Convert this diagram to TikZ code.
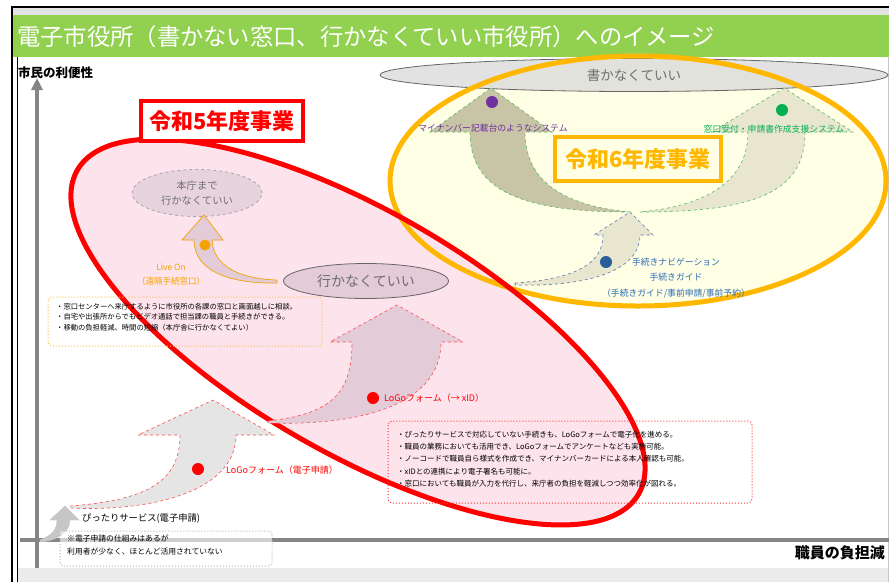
\documentclass[tikz,border=0pt]{standalone}
\usepackage{fontspec}
\newfontfamily\jp{Noto Sans CJK JP}
\usetikzlibrary{shapes.geometric,arrows.meta}
\definecolor{tgreen}{HTML}{92D050}
\definecolor{axisgray}{HTML}{858585}
\definecolor{yfill}{HTML}{FFFFE6}
\definecolor{yline}{HTML}{FFB700}
\definecolor{pinkfill}{HTML}{FDE3EC}
\definecolor{rline}{HTML}{FF0000}
\definecolor{pkgray}{HTML}{E3CBD7}
\definecolor{khaki}{HTML}{C8C4A6}
\definecolor{khakil}{HTML}{E9E6D0}
\definecolor{gline}{HTML}{55B866}
\definecolor{bline}{HTML}{4F78B0}
\definecolor{purp}{HTML}{7030A0}
\definecolor{grn}{HTML}{00B050}
\definecolor{blu}{HTML}{2E6DB4}
\definecolor{orng}{HTML}{F5A300}
\definecolor{txtgray}{HTML}{6E6E6E}
\tikzset{
  axisline/.style={axisgray, line width=4},
  yearbox/.style={draw, line width=3.5, fill=white, inner sep=0, minimum height=40,
     font=\jp\bfseries\fontsize{22}{24}\selectfont},
  bubble/.style={ellipse, inner sep=0, draw=gray!80!black, line width=0.8, text=txtgray},
  note/.style={align=left, anchor=north west, inner sep=0, font=\jp\fontsize{7.3}{10.5}\selectfont},
  notebox/.style={rounded corners=4, dotted, line width=1},
  lbl/.style={inner sep=0, font=\jp\fontsize{9}{11}\selectfont},
  dotn/.style={circle, inner sep=0, minimum size=12},
}
\begin{document}
\begin{tikzpicture}[x=1pt,y=-1pt,font=\jp]
\useasboundingbox (0,0) rectangle (894,582);
\fill[white] (0,0) rectangle (894,582);
% frame and header
\fill[gray!22] (12,7) rectangle (889,15);
\fill[tgreen] (12,15) rectangle (889,57);
\fill[gray!16] (17,568) rectangle (889,582);
\draw[black, line width=1.2] (12,582) -- (12,7) -- (889,7);
\draw[black, line width=0.8] (17,57) -- (17,582);
\draw[gray!45, line width=1] (888,57) -- (888,582);
\node[anchor=west, white, inner sep=0, font=\jp\fontsize{23.3}{26}\selectfont] (title) at (17,37)
  {電子市役所（書かない窓口、行かなくていい市役所）へのイメージ};
% axes
\coordinate (yb) at (37,568);
\coordinate (yt) at (37,78);
\coordinate (xl) at (20,540);
\coordinate (xr) at (889,540);
\draw[axisline, -{Triangle[width=11,length=12]}] (yb) -- (yt);
\draw[axisline] (xl) -- (xr);
\node[anchor=west, inner sep=0, font=\jp\bfseries\fontsize{12.5}{14}\selectfont] (ylab) at (18,73) {市民の利便性};
\node[anchor=east, inner sep=0, font=\jp\bfseries\fontsize{15}{17}\selectfont] (xlab) at (885,553) {職員の負担減};

% big ellipses (fills)
\fill[yfill] (638,181) ellipse [x radius=248, y radius=125];
\fill[pinkfill, rotate around={-30:(358,332)}] (358,332) ellipse [x radius=324, y radius=121];
\node[bubble, fill=gray!30, fill opacity=0.75, text opacity=1, minimum width=508, minimum height=33,
  font=\jp\fontsize{13.5}{15}\selectfont] (kakanai) at (634,75) {書かなくていい};
\draw[yline, line width=5] (638,181) ellipse [x radius=248, y radius=125];
\draw[rline, line width=5, rotate around={-30:(358,332)}] (358,332) ellipse [x radius=324, y radius=121];

% year labels
\node[yearbox, draw=rline, text=rline, minimum width=162] (r5) at (222,121) {令和5年度事業};
\node[yearbox, draw=yline, fill=yfill, text=yline, minimum width=166, minimum height=44] (r6) at (638,159) {令和6年度事業};

% U-shaped arrows (R6)
\filldraw[fill=khaki, draw=gline, dashed, line width=0.6]
  (630,212) .. controls (520,212) and (470,190) .. (470,132) -- (430,132) -- (491,88) -- (552,132)
  -- (525,132) .. controls (525,182) and (565,206) .. (630,212) -- cycle;
\filldraw[fill=khakil, draw=gline, dashed, line width=0.6]
  (640,212) .. controls (760,212) and (805,190) .. (805,132) -- (853,132) -- (784,88) -- (712,132)
  -- (748,132) .. controls (748,182) and (705,206) .. (640,212) -- cycle;
\node[dotn, fill=purp] (dp) at (492,102) {};
\node[dotn, fill=grn] (dg) at (782,110) {};
\node[lbl, text=purp, font=\jp\fontsize{8.8}{10}\selectfont] (tp) at (493,128) {マイナンバー記載台のようなシステム};
\node[lbl, text=grn, font=\jp\fontsize{8.8}{10}\selectfont] (tg) at (774,129) {窓口受付・申請書作成支援システム};

% blue arrow
\filldraw[fill=khakil, draw=bline, dashed, line width=0.6]
  (515,283) .. controls (575,279) and (603,264) .. (603,235) -- (594,235) -- (630,212) -- (653,235)
  -- (640,235) .. controls (640,272) and (585,287) .. (515,285) -- cycle;
\node[dotn, fill=blu!85!black] (db) at (606,262) {};
\node[lbl, text=blu, align=center, font=\jp\fontsize{8.8}{15.5}\selectfont] (tb) at (676,278)
  {手続きナビゲーション\\手続きガイド\\（手続きガイド/事前申請/事前予約）};

% gray bubble 行かなくていい
\node[bubble, fill=pkgray, minimum width=165, minimum height=35, font=\jp\fontsize{14}{16}\selectfont] (ikanai) at (366,281) {行かなくていい};

% 本庁まで bubble
\node[bubble, dashed, draw=gray!70, fill=pkgray!85, minimum width=130, minimum height=47, align=center,
  font=\jp\fontsize{10.3}{15}\selectfont] (honcho) at (197,193) {本庁まで\\行かなくていい};

% Live On arrow
\filldraw[fill=pkgray, draw=orng, line width=0.7]
  (277,283) .. controls (232,284) and (194,272) .. (194,240) -- (182,240) -- (204,215) -- (223,240)
  -- (212,240) .. controls (213,266) and (240,279) .. (277,280) -- cycle;
\node[dotn, fill=orng, minimum size=11] (dl) at (205,245) {};
\node[lbl, text=orng, align=center, font=\jp\fontsize{8.5}{14}\selectfont] (tl) at (171,275) {Live On\\（遠隔手続窓口）};

% pink arrow (LoGo xID)
\filldraw[fill=pkgray, draw=rline!70, dashed, line width=0.6]
  (268,421) .. controls (330,414) and (352,395) .. (352,342) -- (330,342) -- (397,305) -- (463,342)
  -- (441,342) .. controls (441,405) and (360,426) .. (268,423) -- cycle;
\node[dotn, fill=rline] (dx) at (373,398) {};
\node[lbl, anchor=west, text=rline] (tx) at (384,398) {LoGoフォーム（→ xID）};

% gray arrow (LoGo 電子申請)
\filldraw[fill=gray!20, draw=rline!70, dashed, line width=0.6]
  (70,506) .. controls (150,500) and (180,480) .. (180,435) -- (138,435) -- (213,400) -- (274,435)
  -- (236,435) .. controls (236,492) and (150,512) .. (70,508) -- cycle;
\node[dotn, fill=rline] (de) at (198,469) {};
\node[lbl, anchor=west, text=rline] (te) at (226,470) {LoGoフォーム（電子申請）};

% small arrow (ぴったり)
\filldraw[fill=gray!45, draw=gray!45, line width=0.4]
  (40,540) .. controls (52,535) and (57,530) .. (57,520) -- (50,520) -- (65,506) -- (79,520)
  -- (70,520) .. controls (70,533) and (56,541) .. (40,542) -- cycle;
\node[lbl, anchor=west, text=black, font=\jp\fontsize{9.3}{11}\selectfont] (tpt) at (82,518) {ぴったりサービス(電子申請)};

% note boxes
\draw[notebox, draw=orng!70] (48,297) rectangle (322,346);
\node[note] (nl) at (56,303)
  {・窓口センターへ来庁するように市役所の各課の窓口と画面越しに相談。\\
   ・自宅や出張所からでもビデオ通話で担当課の職員と手続きができる。\\
   ・移動の負担軽減、時間の短縮（本庁舎に行かなくてよい）};
\draw[notebox, draw=rline!80] (388,421) rectangle (752,503);
\node[note, font=\jp\fontsize{7.5}{12.2}\selectfont] (nr) at (397,431)
  {・ぴったりサービスで対応していない手続きも、LoGoフォームで電子化を進める。\\
   ・職員の業務においても活用でき、LoGoフォームでアンケートなども実施可能。\\
   ・ノーコードで職員自ら様式を作成でき、マイナンバーカードによる本人確認も可能。\\
   ・xIDとの連携により電子署名も可能に。\\
   ・窓口においても職員が入力を代行し、来庁者の負担を軽減しつつ効率化が図れる。};
\fill[white, opacity=0.6] (60,531) rectangle (272,566);
\draw[notebox, draw=gray!60] (60,531) rectangle (272,566);
\node[note, font=\jp\fontsize{7.8}{13}\selectfont] (nb) at (67,535)
  {※電子申請の仕組みはあるが\\利用者が少なく、ほとんど活用されていない};
\end{tikzpicture}
\end{document}
